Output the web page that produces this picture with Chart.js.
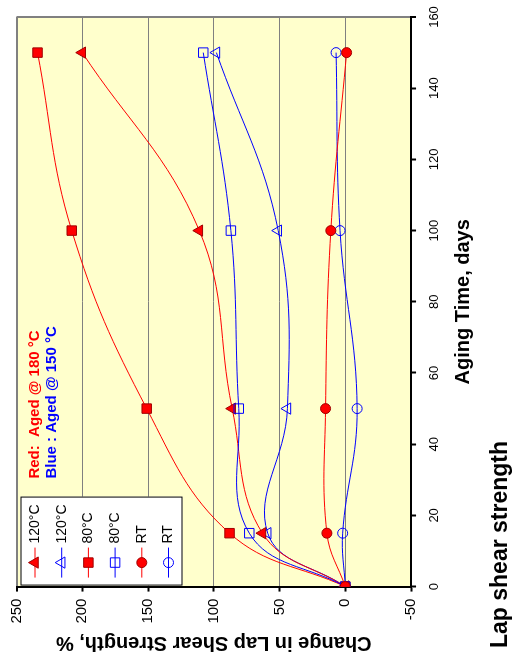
<!DOCTYPE html>
<html>
<head>
<meta charset="utf-8">
<script src="https://cdn.jsdelivr.net/npm/chart.js@4.4.0/dist/chart.umd.min.js"></script>
<style>
  html, body { margin: 0; padding: 0; background: #fff; }
  body { width: 514px; height: 668px; overflow: hidden; position: relative; }
  /* the chart is drawn upright and then turned a quarter turn to the left */
  #wrap { position: absolute; left: 0; top: 0; width: 668px; height: 514px;
          transform-origin: 0 0; transform: translate(0, 668px) rotate(-90deg); }
</style>
</head>
<body>
<div id="wrap"><canvas id="lapChart" width="668" height="514"></canvas></div>
<script>
const days = [0, 15, 50, 100, 150];
const red120 = [0, 63, 86, 111, 200];
const blue120 = [0, 59, 44, 51, 98];
const red80 = [0, 88, 151, 208, 234];
const blue80 = [0, 73, 81, 87, 108];
const redRT = [0, 14, 15, 11, -1];
const blueRT = [0, 2, -9, 4, 7];
const seriesNames = ['120°C', '120°C', '80°C', '80°C', 'RT', 'RT'];
const notes = ['Red:  Aged @ 180 °C', 'Blue : Aged @ 150 °C'];

const RED = '#ff0000';
const BLUE = '#0000ff';
const GRID = '#808080';
const FONT = '"Liberation Sans", Arial, sans-serif';

Chart.defaults.font.family = FONT;
Chart.defaults.color = '#000';

function series(i, vals, color, style, filled, order) {
  return {
    label: seriesNames[i],
    data: days.map((d, k) => ({ x: d, y: vals[k] })),
    borderColor: color,
    borderWidth: 1,
    tension: 0.4,
    pointStyle: style,
    pointRadius: style === 'circle' ? 5 : (style === 'rect' ? 6.7 : 6.5),
    pointBackgroundColor: filled ? color : 'rgba(0,0,0,0)',
    pointBorderColor: filled ? '#a00000' : color,
    pointBorderWidth: 1,
    order: order
  };
}

// yellow plot area
const plotBackground = {
  id: 'plotBackground',
  beforeDraw(chart) {
    const { ctx, chartArea: a } = chart;
    ctx.save();
    ctx.fillStyle = '#ffffcc';
    ctx.fillRect(a.left, a.top, a.right - a.left, a.bottom - a.top);
    ctx.restore();
  }
};

// boxed legend inside the plot + the two colour notes
const boxLegend = {
  id: 'boxLegend',
  afterDraw(chart) {
    const { ctx, chartArea: a } = chart;
    const x0 = a.left + 1, y0 = a.top + 4, w = 89, h = 162;
    ctx.save();
    ctx.fillStyle = '#fff';
    ctx.fillRect(x0, y0, w, h);
    ctx.strokeStyle = '#000';
    ctx.lineWidth = 1;
    ctx.strokeRect(x0 + 0.5, y0 + 0.5, w - 1, h - 1);
    chart.data.datasets.forEach((ds, i) => {
      const y = y0 + 14.5 + i * 26.7;
      ctx.strokeStyle = ds.borderColor;
      ctx.lineWidth = 1;
      ctx.beginPath();
      ctx.moveTo(a.left + 9, y);
      ctx.lineTo(a.left + 39, y);
      ctx.stroke();
      ctx.fillStyle = ds.pointBackgroundColor;
      ctx.strokeStyle = ds.pointBorderColor;
      Chart.helpers.drawPoint(ctx, { pointStyle: ds.pointStyle, radius: ds.pointRadius, borderWidth: 1, rotation: 0 }, a.left + 24, y);
      ctx.fillStyle = '#000';
      ctx.font = '14px ' + FONT;
      ctx.textAlign = 'left';
      ctx.textBaseline = 'middle';
      ctx.fillText(ds.label, a.left + 43, y);
    });
    ctx.font = 'bold 15px ' + FONT;
    ctx.textBaseline = 'alphabetic';
    ctx.fillStyle = RED;
    ctx.fillText(notes[0], a.left + 108, a.top + 22);
    ctx.fillStyle = BLUE;
    ctx.fillText(notes[1], a.left + 108, a.top + 39.5);
    ctx.restore();
  }
};

new Chart(document.getElementById('lapChart'), {
  type: 'line',
  data: {
    datasets: [
      series(0, red120, RED, 'triangle', true, 3),
      series(1, blue120, BLUE, 'triangle', false, 4),
      series(2, red80, RED, 'rect', true, 2),
      series(3, blue80, BLUE, 'rect', false, 1),
      series(4, redRT, RED, 'circle', true, 0),
      series(5, blueRT, BLUE, 'circle', false, 5)
    ]
  },
  options: {
    responsive: false,
    animation: false,
    events: [],
    layout: { padding: { left: 20, right: 17, top: 16.5, bottom: 0 } },
    plugins: {
      legend: { display: false },
      tooltip: { enabled: false },
      title: {
        display: true,
        text: 'Lap shear strength',
        position: 'bottom',
        align: 'start',
        color: '#000',
        font: { size: 23, weight: 'bold' },
        padding: { top: 11.4, bottom: 0 }
      }
    },
    scales: {
      x: {
        type: 'linear',
        min: 0,
        max: 160,
        ticks: { stepSize: 20, padding: 3, font: { size: 13, lineHeight: 2.38 }, maxRotation: 0 },
        grid: {
          color: c => c.tick && c.tick.value === 160 ? GRID : 'rgba(0,0,0,0)',
          lineWidth: c => c.tick && c.tick.value === 160 ? 2 : 1,
          tickColor: '#000',
          tickLength: 5,
          tickWidth: 2
        },
        border: { color: '#000', width: 2 },
        title: {
          display: true,
          text: 'Aging Time, days',
          font: { size: 20, weight: 'bold' },
          padding: { top: -2, bottom: 0 }
        }
      },
      y: {
        min: -50,
        max: 250,
        ticks: { stepSize: 50, padding: 7, font: { size: 15 } },
        grid: {
          color: GRID,
          lineWidth: c => c.tick && c.tick.value === 250 ? 2 : 1,
          tickColor: '#000',
          tickLength: 5,
          tickWidth: 2
        },
        border: { color: '#000', width: 2 },
        title: {
          display: true,
          text: 'Change in Lap Shear Strength, %',
          font: { size: 20, weight: 'bold' },
          padding: { top: -6.6, bottom: 0 }
        }
      }
    }
  },
  plugins: [plotBackground, boxLegend]
});
</script>
</body>
</html>
